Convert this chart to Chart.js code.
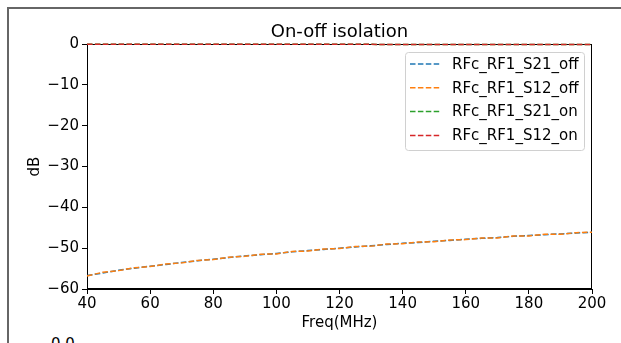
<!DOCTYPE html>
<html>
<head>
<meta charset="utf-8">
<script src="https://cdn.jsdelivr.net/npm/chart.js@4/dist/chart.umd.min.js"></script>
<style>
  html,body{margin:0;padding:0;background:#fff;}
  #wrap{position:relative;width:621px;height:343px;overflow:hidden;}
  #frame{position:absolute;left:7px;top:7px;width:640px;height:400px;border-left:2px solid #666;border-top:2px solid #666;}
  #cut{position:absolute;left:51px;top:335px;font:15px "DejaVu Sans";color:#000;}
  canvas{position:absolute;left:0;top:0;}
</style>
</head>
<body>
<div id="wrap">
  <div id="frame"></div>
  <span id="cut">0.0</span>
  <canvas id="c" width="621" height="343"></canvas>
</div>
<script>
const freq = [40,45,50,55,60,65,70,75,80,85,90,95,100,105,110,115,120,125,130,135,140,145,150,155,160,165,170,175,180,185,190,195,200];
const s21Off = [-56.7,-56.1,-55.4,-54.9,-54.4,-54.0,-53.5,-53.1,-52.7,-52.3,-51.9,-51.6,-51.3,-50.9,-50.6,-50.3,-50.0,-49.7,-49.4,-49.1,-48.8,-48.6,-48.3,-48.1,-47.8,-47.6,-47.4,-47.1,-46.9,-46.7,-46.5,-46.3,-46.1];
const s12Off = [-56.8,-55.9,-55.5,-54.8,-54.5,-53.9,-53.6,-53.0,-52.8,-52.2,-52.0,-51.5,-51.4,-50.8,-50.7,-50.2,-50.1,-49.6,-49.5,-49.0,-48.9,-48.5,-48.4,-48.0,-47.9,-47.5,-47.5,-47.0,-47.0,-46.6,-46.6,-46.2,-46.1];
const s21On = [-0.05,-0.05,-0.05,-0.06,-0.06,-0.06,-0.06,-0.07,-0.07,-0.07,-0.07,-0.08,-0.08,-0.08,-0.08,-0.09,-0.09,-0.09,-0.09,-0.1,-0.1,-0.1,-0.1,-0.11,-0.11,-0.11,-0.11,-0.12,-0.12,-0.12,-0.12,-0.13,-0.13];
const s12On = [-0.05,-0.05,-0.05,-0.06,-0.06,-0.06,-0.06,-0.07,-0.07,-0.07,-0.07,-0.08,-0.08,-0.08,-0.08,-0.09,-0.09,-0.09,-0.09,-0.1,-0.1,-0.1,-0.1,-0.11,-0.11,-0.11,-0.11,-0.12,-0.12,-0.12,-0.12,-0.13,-0.13];
const names = ["RFc_RF1_S21_off","RFc_RF1_S12_off","RFc_RF1_S21_on","RFc_RF1_S12_on"];
const colors = ["#1f77b4","#ff7f0e","#2ca02c","#d62728"];
const series = [s21Off,s12Off,s21On,s12On];

const FONT = '"DejaVu Sans", sans-serif';
const minus = v => String(v).replace("-","\u2212");

// cornice sotto le linee, titolo e legenda sopra
const extras = {
  id:"extras",
  beforeDatasetsDraw(chart){
    const {ctx, chartArea:a} = chart;
    ctx.save();
    ctx.strokeStyle="#000"; ctx.lineWidth=1;
    ctx.strokeRect(a.left+0.5,a.top+0.5,a.right-a.left-1,a.bottom-a.top-1);
    ctx.restore();
  },
  afterDraw(chart){
    const {ctx, chartArea:a} = chart;
    ctx.save();
    ctx.fillStyle="#000";
    ctx.font="18px "+FONT;
    ctx.textAlign="center"; ctx.textBaseline="middle";
    ctx.fillText("On-off isolation",(a.left+a.right)/2,32);

    // legenda
    const lx=405, ly=52, lw=179, lh=98;
    ctx.beginPath();
    ctx.roundRect(lx+0.5,ly+0.5,lw,lh,3);
    ctx.fillStyle="rgba(255,255,255,0.8)"; ctx.fill();
    ctx.strokeStyle="#d0d0d0"; ctx.stroke();
    ctx.font="15px "+FONT; ctx.textAlign="left";
    chart.data.datasets.forEach((d,i)=>{
      const y = ly+12+i*23.8;
      ctx.beginPath();
      ctx.setLineDash([5.5,2.4]);
      ctx.strokeStyle=d.borderColor; ctx.lineWidth=1.5;
      ctx.moveTo(410,y); ctx.lineTo(440,y); ctx.stroke();
      ctx.setLineDash([]);
      ctx.fillStyle="#000";
      ctx.fillText(d.label,452,y+1);
    });
    ctx.restore();
  }
};

new Chart(document.getElementById("c"),{
  type:"line",
  data:{
    datasets: series.map((s,i)=>({
      label:names[i],
      data:s.map((v,k)=>({x:freq[k],y:v})),
      borderColor:colors[i],
      borderWidth:1.5,
      borderDash:[5.5,2.4],
      pointRadius:0,
      tension:0,
      fill:false,
      clip:false,
      order:4-i
    }))
  },
  options:{
    responsive:false,
    animation:false,
    layout:{padding:{top:44,right:29,left:0,bottom:0}},
    plugins:{legend:{display:false},tooltip:{enabled:false},title:{display:false}},
    scales:{
      x:{
        type:"linear", min:40, max:200,
        afterFit: s=>{ s.height=54; },
        ticks:{stepSize:20, color:"#000", font:{family:FONT,size:15}, padding:1, maxRotation:0},
        grid:{display:true, drawOnChartArea:false, drawTicks:true, tickLength:5, color:"#000"},
        border:{display:true, color:"#000", width:1},
        title:{display:true, text:"Freq(MHz)", color:"#000", font:{family:FONT,size:15}, padding:{top:0,bottom:11}}
      },
      y:{
        min:-60, max:0,
        afterFit: s=>{ s.width=87; },
        ticks:{stepSize:10, color:"#000", font:{family:FONT,size:15}, padding:3, callback:v=>minus(v)},
        grid:{display:true, drawOnChartArea:false, drawTicks:true, tickLength:5, color:"#000"},
        border:{display:true, color:"#000", width:1},
        title:{display:true, text:"dB", color:"#000", font:{family:FONT,size:15}, padding:{top:26,bottom:0}}
      }
    }
  },
  plugins:[extras]
});
</script>
</body>
</html>
